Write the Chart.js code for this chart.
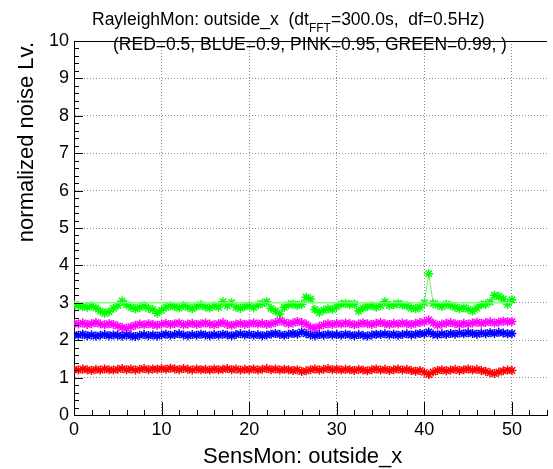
<!DOCTYPE html>
<html>
<head>
<meta charset="utf-8">
<title>RayleighMon: outside_x</title>
<script src="https://cdn.jsdelivr.net/npm/chart.js@4.4.0/dist/chart.umd.min.js"></script>
<style>
    html, body { margin: 0; padding: 0; background: #fff; overflow: hidden; }
    #wrap { width: 553px; height: 469px; }
</style>
</head>
<body>
<div id="wrap"><canvas id="rayleigh-chart" width="553" height="469"></canvas></div>
<script>
// Sensor positions along outside_x
const sensorPos = [
    0, 0.5, 1, 1.5, 2, 2.5, 3, 3.5, 4, 4.5,
    5, 5.5, 6, 6.5, 7, 7.5, 8, 8.5, 9, 9.5,
    10, 10.5, 11, 11.5, 12, 12.5, 13, 13.5, 14, 14.5,
    15, 15.5, 16, 16.5, 17, 17.5, 18, 18.5, 19, 19.5,
    20, 20.5, 21, 21.5, 22, 22.5, 23, 23.5, 24, 24.5,
    25, 25.5, 26, 26.5, 27, 27.5, 28, 28.5, 29, 29.5,
    30, 30.5, 31, 31.5, 32, 32.5, 33, 33.5, 34, 34.5,
    35, 35.5, 36, 36.5, 37, 37.5, 38, 38.5, 39, 39.5,
    40, 40.5, 41, 41.5, 42, 42.5, 43, 43.5, 44, 44.5,
    45, 45.5, 46, 46.5, 47, 47.5, 48, 48.5, 49, 49.5,
    50
];

// Rayleigh statistic, one value per position and confidence level
const redLevel = [
    1.22, 1.20, 1.23, 1.21, 1.19, 1.22, 1.20, 1.23, 1.21, 1.20,
    1.22, 1.24, 1.21, 1.23, 1.20, 1.22, 1.24, 1.21, 1.23, 1.22,
    1.24, 1.22, 1.25, 1.23, 1.21, 1.24, 1.22, 1.20, 1.23, 1.21,
    1.22, 1.20, 1.23, 1.21, 1.22, 1.24, 1.21, 1.23, 1.20, 1.22,
    1.21, 1.23, 1.20, 1.22, 1.24, 1.21, 1.23, 1.20, 1.22, 1.21,
    1.19, 1.21, 1.16, 1.18, 1.21, 1.23, 1.20, 1.22, 1.24, 1.21,
    1.23, 1.20, 1.22, 1.21, 1.19, 1.22, 1.20, 1.18, 1.21, 1.23,
    1.20, 1.22, 1.19, 1.21, 1.23, 1.20, 1.22, 1.19, 1.17, 1.19,
    1.14, 1.08, 1.15, 1.19, 1.21, 1.18, 1.20, 1.22, 1.19, 1.21,
    1.23, 1.20, 1.22, 1.19, 1.17, 1.13, 1.11, 1.15, 1.18, 1.20,
    1.19
];
const blueLevel = [
    2.15, 2.13, 2.16, 2.12, 2.14, 2.11, 2.13, 2.15, 2.12, 2.14,
    2.13, 2.11, 2.14, 2.12, 2.10, 2.13, 2.15, 2.12, 2.14, 2.11,
    2.14, 2.16, 2.13, 2.15, 2.17, 2.14, 2.12, 2.15, 2.13, 2.16,
    2.14, 2.12, 2.15, 2.13, 2.16, 2.14, 2.12, 2.15, 2.17, 2.14,
    2.16, 2.13, 2.15, 2.12, 2.14, 2.16, 2.18, 2.15, 2.13, 2.16,
    2.18, 2.16, 2.22, 2.17, 2.14, 2.12, 2.15, 2.13, 2.16, 2.14,
    2.15, 2.13, 2.16, 2.14, 2.12, 2.15, 2.13, 2.11, 2.14, 2.16,
    2.15, 2.17, 2.14, 2.16, 2.13, 2.15, 2.17, 2.14, 2.16, 2.18,
    2.17, 2.22, 2.16, 2.14, 2.17, 2.15, 2.18, 2.16, 2.19, 2.17,
    2.20, 2.18, 2.16, 2.19, 2.17, 2.20, 2.18, 2.21, 2.19, 2.17,
    2.18
];
const pinkLevel = [
    2.45, 2.43, 2.46, 2.42, 2.44, 2.47, 2.43, 2.41, 2.44, 2.42,
    2.38, 2.34, 2.32, 2.36, 2.40, 2.43, 2.41, 2.44, 2.42, 2.40,
    2.43, 2.45, 2.42, 2.44, 2.46, 2.41, 2.43, 2.45, 2.42, 2.44,
    2.46, 2.43, 2.41, 2.44, 2.47, 2.42, 2.40, 2.43, 2.45, 2.42,
    2.44, 2.46, 2.43, 2.45, 2.42, 2.44, 2.47, 2.52, 2.48, 2.44,
    2.46, 2.50, 2.47, 2.43, 2.35, 2.32, 2.37, 2.41, 2.44, 2.42,
    2.45, 2.43, 2.46, 2.44, 2.41, 2.43, 2.46, 2.44, 2.42, 2.45,
    2.47, 2.44, 2.42, 2.45, 2.43, 2.46, 2.44, 2.42, 2.45, 2.47,
    2.49, 2.54, 2.46, 2.40, 2.43, 2.45, 2.47, 2.44, 2.42, 2.45,
    2.43, 2.46, 2.48, 2.45, 2.47, 2.49, 2.46, 2.48, 2.51, 2.49,
    2.50
];
const greenLevel = [
    2.95, 2.92, 2.90, 2.88, 2.92, 2.86, 2.78, 2.72, 2.76, 2.85,
    2.93, 3.05, 2.95, 2.88, 2.84, 2.87, 2.92, 2.85, 2.82, 2.72,
    2.80, 2.88, 2.92, 2.90, 2.86, 2.93, 2.88, 2.84, 2.90, 2.95,
    2.89, 2.86, 2.92, 2.88, 3.03, 2.92, 3.00, 2.88, 2.85, 2.90,
    2.93, 2.87, 2.94, 2.98, 3.03, 2.85, 2.78, 2.70, 2.88, 2.95,
    2.97, 2.93, 2.96, 3.15, 3.10, 2.82, 2.74, 2.80, 2.84, 2.82,
    2.90, 2.96, 2.98, 2.95, 2.97, 2.78, 2.86, 2.90, 2.92, 2.88,
    2.93, 3.03, 2.93, 2.95, 2.98, 2.94, 2.92, 2.86, 2.84, 2.88,
    3.00, 3.78, 2.98, 2.94, 2.90, 2.96, 2.93, 2.88, 2.84, 2.87,
    2.83, 2.78, 2.86, 2.95, 2.96, 3.02, 3.20, 3.17, 3.10, 2.96,
    3.08
];

// Threshold line for the 0.99 level
const thresholdX = [0, 50];
const thresholdY = [3.0, 3.0];

const xTickStep = 10;
const yTickStep = 1;

const FONT = '"Liberation Sans", Arial, Helvetica, sans-serif';

function toPoints(xs, ys) {
    return ys.map((v, i) => ({ x: xs[i], y: v }));
}

function levelDataset(label, values, color, lineColor) {
    return {
        label: label,
        data: toPoints(sensorPos, values),
        borderColor: lineColor,
        borderWidth: 1,
        pointStyle: 'star',
        pointRadius: 4.5,
        pointBorderColor: color,
        pointBorderWidth: 1.5,
        pointBackgroundColor: color,
        tension: 0
    };
}

// ROOT style frame: inward tick marks, top edge and the text around the pad
const rootFrame = {
    id: 'rootFrame',
    afterDraw(chart) {
        const { ctx, chartArea: area, scales: { x, y } } = chart;
        ctx.save();
        ctx.strokeStyle = '#000';
        ctx.lineWidth = 1;

        ctx.beginPath();
        ctx.moveTo(area.left, area.top + 0.5);
        ctx.lineTo(area.right, area.top + 0.5);
        ctx.stroke();

        ctx.beginPath();
        for (let v = 0; v <= x.max + 0.001; v += 2) {
            const px = Math.round(x.getPixelForValue(v)) + 0.5;
            const len = v % 10 === 0 ? 13 : 5;
            ctx.moveTo(px, area.bottom);
            ctx.lineTo(px, area.bottom - len);
        }
        for (let i = 0; i <= 50; i++) {
            const py = Math.round(y.getPixelForValue(i / 5)) + 0.5;
            const len = i % 5 === 0 ? 9 : 5;
            ctx.moveTo(area.left, py);
            ctx.lineTo(area.left + len, py);
        }
        ctx.stroke();

        ctx.fillStyle = '#000';
        ctx.textBaseline = 'alphabetic';
        ctx.textAlign = 'left';

        // pad title, two lines
        ctx.font = '17.5px ' + FONT;
        const head = 'RayleighMon: outside_x  (dt';
        ctx.fillText(head, 92, 25);
        let cx = 92 + ctx.measureText(head).width;
        ctx.font = '12px ' + FONT;
        ctx.fillText('FFT', cx, 32);
        cx += ctx.measureText('FFT').width;
        ctx.font = '17.5px ' + FONT;
        ctx.fillText('=300.0s,  df=0.5Hz)', cx, 25);
        ctx.fillText('(RED=0.5, BLUE=0.9, PINK=0.95, GREEN=0.99, )', 113, 50);

        // axis titles
        ctx.font = '22px ' + FONT;
        ctx.fillText('SensMon: outside_x', 203, 463);

        ctx.translate(33, 42);
        ctx.rotate(-Math.PI / 2);
        ctx.textAlign = 'right';
        ctx.fillText('normalized noise Lv.', 0, 0);
        ctx.restore();
    }
};

const ctx = document.getElementById('rayleigh-chart').getContext('2d');
const rayleighChart = new Chart(ctx, {
    type: 'line',
    data: {
        datasets: [
            {
                label: 'threshold',
                data: toPoints(thresholdX, thresholdY),
                borderColor: '#7dff7d',
                borderWidth: 1.5,
                pointRadius: 0
            },
            levelDataset('RED', redLevel, '#ff0000', 'rgba(255, 0, 0, 0.6)'),
            levelDataset('BLUE', blueLevel, '#0000ff', 'rgba(0, 0, 255, 0.6)'),
            levelDataset('PINK', pinkLevel, '#ff00ff', 'rgba(255, 0, 255, 0.6)'),
            levelDataset('GREEN', greenLevel, '#00ff00', 'rgba(0, 230, 0, 0.6)')
        ]
    },
    options: {
        responsive: false,
        animation: false,
        devicePixelRatio: 1,
        layout: {
            padding: { top: 41, right: 0, bottom: 0, left: 0 }
        },
        plugins: {
            legend: { display: false },
            tooltip: { enabled: false },
            title: { display: false }
        },
        scales: {
            x: {
                type: 'linear',
                min: 0,
                max: 54,
                afterFit(scale) { scale.height = 54; },
                ticks: {
                    stepSize: xTickStep,
                    includeBounds: false,
                    color: '#000',
                    padding: 4,
                    maxRotation: 0,
                    font: { family: FONT, size: 18 }
                },
                grid: {
                    color: '#8c8c8c',
                    lineWidth: 1,
                    drawTicks: false
                },
                border: { display: true, color: '#000', width: 1, dash: [1, 2] }
            },
            y: {
                type: 'linear',
                min: 0,
                max: 10,
                afterFit(scale) { scale.width = 74; },
                ticks: {
                    stepSize: yTickStep,
                    color: '#000',
                    padding: 5,
                    font: { family: FONT, size: 18 }
                },
                grid: {
                    color: '#8c8c8c',
                    lineWidth: 1,
                    drawTicks: false
                },
                border: { display: true, color: '#000', width: 1, dash: [1, 2] }
            }
        }
    },
    plugins: [rootFrame]
});
</script>
</body>
</html>
